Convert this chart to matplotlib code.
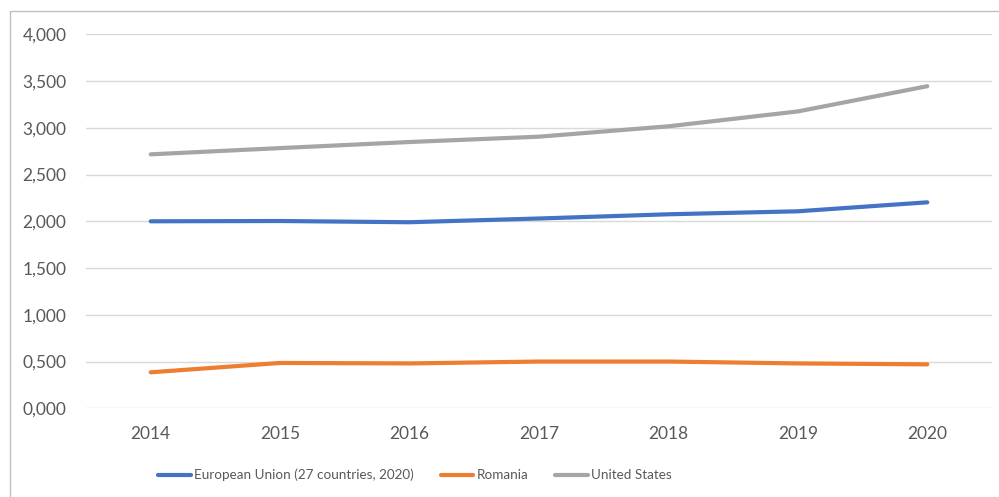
import matplotlib
matplotlib.use("Agg")
from matplotlib import pyplot as plt
from matplotlib.patches import Rectangle
from matplotlib.ticker import FuncFormatter

years = ["2014", "2015", "2016", "2017", "2018", "2019", "2020"]
eu = [2.000, 2.003, 1.990, 2.030, 2.075, 2.107, 2.203]
romania = [0.385, 0.485, 0.480, 0.500, 0.500, 0.480, 0.470]
usa = [2.716, 2.783, 2.848, 2.905, 3.016, 3.175, 3.445]
series_names = ["European Union (27 countries, 2020)", "Romania", "United States"]
colors = ["#4472C4", "#ED7D31", "#A5A5A5"]


def fmt(v, pos):
    return f"{v:.3f}".replace(".", ",")


plt.rcParams['font.family'] = ['Lato', 'DejaVu Sans']

fig = plt.figure(figsize=(9.99, 4.97), dpi=100)
fig.patches.append(Rectangle((10 / 999, -0.1), 1.2, 1 - 10.5 / 497 + 0.1,
                             transform=fig.transFigure, fill=False,
                             edgecolor="#BFBFBF", linewidth=1))
ax = fig.add_axes([86 / 999, 1 - 408.3 / 497, 906 / 999, 374 / 497])

x = range(len(years))
for vals, name, c in zip([eu, romania, usa], series_names, colors):
    ax.plot(x, vals, color=c, linewidth=3, solid_capstyle="round", label=name)

ax.set_xlim(-0.5, 6.5)
ax.set_ylim(0, 4)
ax.set_yticks([i * 0.5 for i in range(9)])
ax.yaxis.set_major_formatter(FuncFormatter(fmt))
ax.set_xticks(list(x))
ax.set_xticklabels(years)
ax.grid(axis="y", color="#D9D9D9", linewidth=1)
ax.set_axisbelow(True)
for s in ax.spines.values():
    s.set_visible(False)
ax.tick_params(length=0, labelsize=12.5, colors="#595959")
ax.tick_params(axis="y", pad=14)
ax.tick_params(axis="x", pad=13)

fig.legend(loc="center", bbox_to_anchor=(415 / 999, 1 - 475 / 497), ncol=3,
           frameon=False, handlelength=2.4, handletextpad=0.25,
           columnspacing=2.0,
           prop={"family": ["Lato", "DejaVu Sans"], "size": 9.7},
           labelcolor="#595959")

fig.savefig("out.png", dpi=100)
